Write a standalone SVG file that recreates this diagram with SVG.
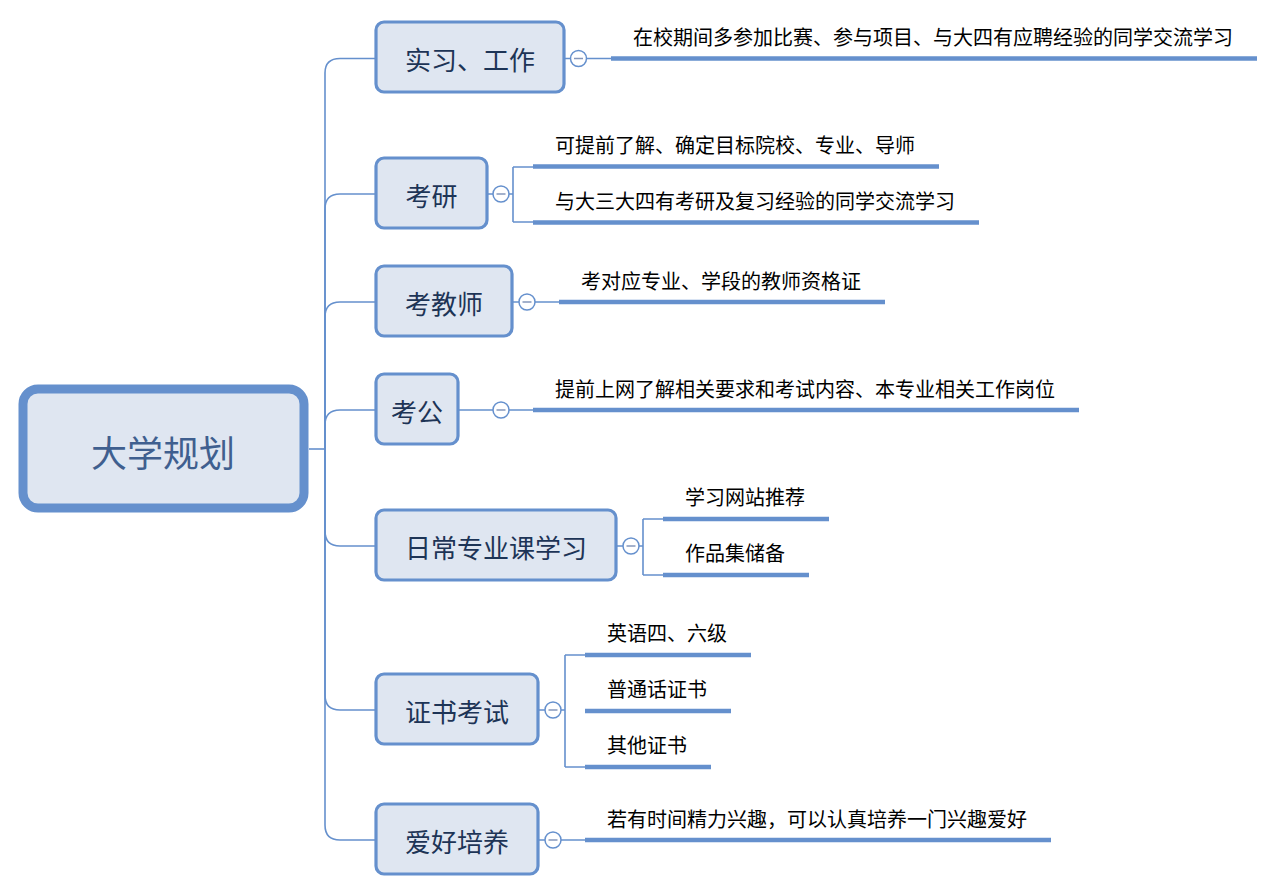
<svg xmlns="http://www.w3.org/2000/svg" width="1274" height="890" viewBox="0 0 1274 890">
<style>
.ln{fill:none;stroke:#6590cd;stroke-width:1.6}
.bar{fill:none;stroke:#6590cd;stroke-width:4.5}
.node{fill:#dfe6f1;stroke:#6590cd;stroke-width:3.2}
.root{fill:#dfe6f1;stroke:#6590cd;stroke-width:9}
.nt{font-family:"Noto Sans CJK SC","Noto Sans",sans-serif;font-size:26px;fill:#1d3456;text-anchor:middle;dominant-baseline:central}
.rt{font-family:"Noto Sans CJK SC","Noto Sans",sans-serif;font-size:36px;fill:#3f5f8f;text-anchor:middle;dominant-baseline:central}
.lt{font-family:"Noto Sans CJK SC","Noto Sans",sans-serif;font-size:20px;fill:#000;dominant-baseline:central}
.cc{fill:#fff;stroke:#6590cd;stroke-width:1.5}
.cm{stroke:#8597bb;stroke-width:1.5}
</style>
<rect width="1274" height="890" fill="#fff"/>
<g id="connectors">
<path class="ln" d="M309,449 H325"/>
<path class="ln" d="M325,449 V73 Q325,58.5 340,58.5 H376"/>
<path class="ln" d="M325,449 V209 Q325,194 340,194 H376"/>
<path class="ln" d="M325,449 V317 Q325,302 340,302 H376"/>
<path class="ln" d="M325,449 V425 Q325,410 340,410 H376"/>
<path class="ln" d="M325,449 V531 Q325,546 340,546 H376"/>
<path class="ln" d="M325,449 V695 Q325,710 340,710 H376"/>
<path class="ln" d="M325,449 V825 Q325,840 340,840 H376"/>
<path class="ln" d="M564,58.5 H611"/>
<path class="bar" d="M611,58.5 H1257"/>
<path class="ln" d="M487,194 H513 M513,167 V222 M513,167 H533 M513,222 H533"/>
<path class="bar" d="M533,166.5 H939 M533,222.5 H979"/>
<path class="ln" d="M512,302 H559"/>
<path class="bar" d="M559,302 H885"/>
<path class="ln" d="M458,410 H533"/>
<path class="bar" d="M533,410 H1079"/>
<path class="ln" d="M616,546 H643 M643,519 V575 M643,519 H663 M643,575 H663"/>
<path class="bar" d="M663,519 H829 M663,575 H809"/>
<path class="ln" d="M538,710 H565 M565,655 V767 M565,655 H585 M565,767 H585"/>
<path class="bar" d="M585,655 H751 M585,711 H731 M585,767 H711"/>
<path class="ln" d="M538,840 H585"/>
<path class="bar" d="M585,840 H1051"/>
</g>
<g id="root">
<rect class="root" x="23" y="389" width="281" height="119" rx="15"/>
<text class="rt" x="163" y="451">大学规划</text>
</g>
<g id="n1">
<rect class="node" x="376" y="22" width="188" height="70" rx="8"/>
<text class="nt" x="470" y="58">实习、工作</text>
<circle class="cc" cx="578.5" cy="58.5" r="8"/><path class="cm" d="M574,58.5 H583"/>
<text class="lt" x="633" y="36">在校期间多参加比赛、参与项目、与大四有应聘经验的同学交流学习</text>
</g>
<g id="n2">
<rect class="node" x="376" y="158" width="111" height="70" rx="8"/>
<text class="nt" x="431.5" y="194">考研</text>
<circle class="cc" cx="501" cy="194" r="8"/><path class="cm" d="M496.5,194 H505.5"/>
<text class="lt" x="555" y="144">可提前了解、确定目标院校、专业、导师</text>
<text class="lt" x="555" y="200">与大三大四有考研及复习经验的同学交流学习</text>
</g>
<g id="n3">
<rect class="node" x="376" y="266" width="136" height="70" rx="8"/>
<text class="nt" x="444" y="302">考教师</text>
<circle class="cc" cx="527" cy="302" r="8"/><path class="cm" d="M522.5,302 H531.5"/>
<text class="lt" x="581" y="280">考对应专业、学段的教师资格证</text>
</g>
<g id="n4">
<rect class="node" x="376" y="374" width="82" height="70" rx="8"/>
<text class="nt" x="417" y="410">考公</text>
<circle class="cc" cx="501" cy="410" r="8"/><path class="cm" d="M496.5,410 H505.5"/>
<text class="lt" x="555" y="388">提前上网了解相关要求和考试内容、本专业相关工作岗位</text>
</g>
<g id="n5">
<rect class="node" x="376" y="510" width="240" height="70" rx="8"/>
<text class="nt" x="496" y="546">日常专业课学习</text>
<circle class="cc" cx="631" cy="546" r="8"/><path class="cm" d="M626.5,546 H635.5"/>
<text class="lt" x="685" y="496">学习网站推荐</text>
<text class="lt" x="685" y="552">作品集储备</text>
</g>
<g id="n6">
<rect class="node" x="376" y="674" width="162" height="70" rx="8"/>
<text class="nt" x="457" y="710">证书考试</text>
<circle class="cc" cx="553" cy="710" r="8"/><path class="cm" d="M548.5,710 H557.5"/>
<text class="lt" x="607" y="632">英语四、六级</text>
<text class="lt" x="607" y="688">普通话证书</text>
<text class="lt" x="607" y="744">其他证书</text>
</g>
<g id="n7">
<rect class="node" x="376" y="804" width="162" height="70" rx="8"/>
<text class="nt" x="457" y="840">爱好培养</text>
<circle class="cc" cx="553" cy="840" r="8"/><path class="cm" d="M548.5,840 H557.5"/>
<text class="lt" x="607" y="818">若有时间精力兴趣，可以认真培养一门兴趣爱好</text>
</g>
</svg>
